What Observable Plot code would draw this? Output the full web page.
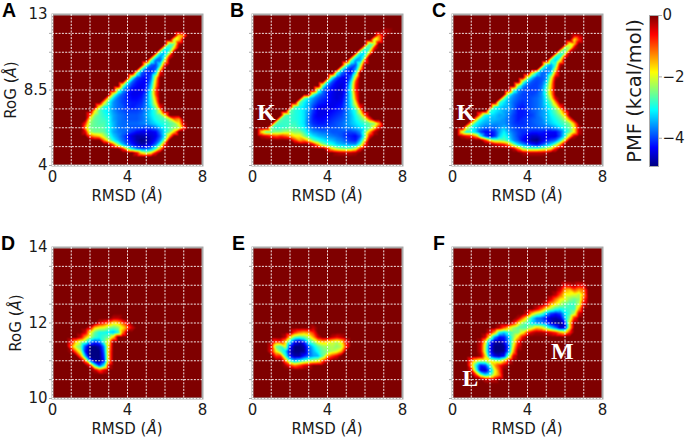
<!DOCTYPE html>
<html>
<head>
<meta charset="utf-8">
<script src="https://cdn.jsdelivr.net/npm/d3@7"></script>
<script src="https://cdn.jsdelivr.net/npm/@observablehq/plot@0.6"></script>
<style>
  body { margin: 0; background: #fff; }
  #chart { position: relative; width: 685px; height: 437px; overflow: hidden; }
  #chart svg { position: absolute; background: transparent; overflow: visible; }
</style>
</head>
<body>
<div id="chart"></div>
<script>
// PMF. Each row: [RoG, first RMSD, values every 0.25 A...]. Anything not listed is 0.
const panelA = [
  [11.75, 6.75, -1.6, -1.2],
  [11.5, 6.5, -2.2, -1.6],
  [11.25, 6.25, -2.6, -2.4, -0.3],
  [11, 6, -2.8, -3, -1.6],
  [10.75, 5.75, -2.8, -3.4, -2.4],
  [10.5, 5.5, -2.6, -3.6, -2.8, -0.6],
  [10.25, 5.25, -2.6, -3.8, -3.8, -1.8],
  [10, 5, -2.4, -3.8, -4, -3, -0.6],
  [9.75, 4.75, -2.6, -3.9, -4.1, -3.9, -1.8],
  [9.5, 4.5, -2.6, -3.9, -4.2, -4.1, -3.2, -0.5],
  [9.25, 4.25, -2.6, -3.9, -4.2, -4.3, -3.9, -2],
  [9, 4, -2.6, -3.8, -4.2, -4.3, -4.3, -3.6, -1.6],
  [8.75, 3.75, -2.4, -3.6, -4.1, -4.3, -4.4, -4.2, -3.3, -1.4],
  [8.5, 3.5, -2.4, -3.5, -4, -4.3, -4.4, -4.4, -4.1, -3, -1],
  [8.25, 3.25, -2.2, -3.4, -3.9, -4.2, -4.4, -4.4, -4.3, -3.9, -2.8, -1],
  [8, 3, -2, -3.3, -3.8, -4, -4.2, -4.3, -4.3, -4.2, -3.8, -2.9, -1.4],
  [7.75, 2.75, -1.8, -3, -3.6, -3.8, -4, -4.1, -4.2, -4.2, -4.1, -3.7, -3, -1.8],
  [7.5, 2.5, -1.8, -2.9, -3.2, -3.6, -3.8, -3.9, -4.1, -4.2, -4.1, -4, -3.7, -3.2, -2.4, -0.5],
  [7.25, 2.25, -1.8, -2.7, -3, -3.2, -3.6, -3.8, -3.9, -4, -4, -4, -3.9, -3.6, -3.2, -2.8, -1.8],
  [7, 2, -1, -2.4, -2.7, -2.9, -3.1, -3.5, -3.7, -3.8, -3.9, -3.9, -3.9, -3.8, -3.5, -3.2, -2.9, -2.6, -1.6],
  [6.75, 2, -2, -2.6, -2.7, -2.8, -3, -3.5, -3.7, -3.8, -3.9, -3.9, -3.9, -3.8, -3.6, -3.3, -3, -2.8, -2.7, -2.2, -1.2, -1.4],
  [6.5, 1.75, -0.8, -2.4, -2.6, -2.7, -2.7, -3, -3.4, -3.7, -3.8, -3.8, -3.8, -3.8, -3.7, -3.6, -3.4, -3.2, -3, -2.9, -2.7, -2.5, -1.8, -0.3],
  [6.25, 1.75, -1.4, -2.5, -2.6, -2.6, -2.7, -3, -3.4, -3.7, -3.8, -3.8, -3.9, -3.9, -3.9, -4, -3.9, -3.7, -3.3, -3, -2.7, -2.4, -2.2, -1],
  [6, 1.75, -0.5, -2.2, -2.5, -2.5, -2.6, -3, -3.5, -3.7, -3.8, -3.9, -4.1, -4.3, -4.4, -4.4, -4.4, -4.3, -3.7, -3.1, -2.5, -1.5],
  [5.75, 2, -1, -1.4, -1.6, -2.2, -2.8, -3.3, -3.6, -3.9, -4.2, -4.5, -4.7, -4.7, -4.6, -4.5, -4.4, -3.9, -3, -1.4],
  [5.5, 2.75, -1.2, -2.2, -3, -3.4, -3.8, -4.1, -4.4, -4.7, -4.9, -4.8, -4.5, -4.2, -3.6, -2.2],
  [5.25, 3.25, -1, -2.4, -3.4, -3.9, -4.2, -4.5, -4.7, -4.6, -4.3, -3.8, -2.6, -0.6],
  [5, 3.75, -0.8, -2.2, -3.2, -3.7, -3.9, -3.9, -3.6, -2.8, -1.4],
  [4.75, 4.5, -0.6, -1.8, -2.2, -1.8, -0.6]
];
const panelB = [
  [12, 7, -0.3, -0.2],
  [11.75, 6.75, -1.2, -0.3],
  [11.5, 6.5, -2.2, -1.4],
  [11.25, 6.25, -2.6, -2.2],
  [11, 6, -2.6, -2.8, -0.6],
  [10.75, 5.75, -2.8, -3.2, -1.8],
  [10.5, 5.5, -2.6, -3.4, -2.6],
  [10.25, 5.25, -2.6, -3.6, -3.4, -1],
  [10, 5, -2.4, -3.6, -3.9, -2.4],
  [9.75, 4.75, -2.6, -3.8, -4.2, -3.6, -1.6],
  [9.5, 4.5, -2.8, -3.8, -4.2, -4.3, -2.8],
  [9.25, 4.25, -2.8, -3.9, -4.3, -4.4, -3.8, -1.8],
  [9, 4, -2.8, -3.9, -4.3, -4.4, -4.3, -3.2, -1],
  [8.75, 3.75, -2.6, -3.8, -4.2, -4.4, -4.5, -4.2, -2.9, -0.8],
  [8.5, 3.5, -2.6, -3.7, -4.1, -4.3, -4.5, -4.5, -4.1, -2.9, -0.8],
  [8.25, 3.25, -2.6, -3.5, -3.9, -4.2, -4.4, -4.5, -4.5, -4, -3, -1],
  [8, 2.75, -2.6, -3.2, -3.6, -3.9, -4.1, -4.2, -4.4, -4.5, -4.4, -3.9, -3, -1.2],
  [7.75, 2.5, -2.6, -3.1, -3.4, -3.8, -4.1, -4.2, -4.3, -4.4, -4.4, -4.3, -3.8, -3.1, -1.8],
  [7.5, 2.25, -2.6, -3, -3.2, -3.5, -4, -4.3, -4.4, -4.4, -4.4, -4.3, -4.2, -3.8, -3.2, -2.4, -0.6],
  [7.25, 2, -2.6, -2.9, -3, -3.2, -3.6, -4.1, -4.4, -4.4, -4.4, -4.3, -4.2, -4.1, -3.8, -3.3, -2.9, -1.8],
  [7, 1.75, -2.6, -2.8, -2.9, -3, -3.2, -3.7, -4.2, -4.4, -4.4, -4.3, -4.2, -4.1, -4, -3.7, -3.4, -3, -2.4, -1],
  [6.75, 1.5, -2.6, -2.8, -2.8, -2.9, -3, -3.2, -3.8, -4.2, -4.3, -4.3, -4.2, -4.1, -4, -3.9, -3.7, -3.4, -3.1, -2.7, -2.2, -1],
  [6.5, 1.25, -2.6, -2.8, -2.8, -2.8, -2.8, -3, -3.2, -3.8, -4.1, -4.2, -4.2, -4.1, -4, -3.9, -3.8, -3.6, -3.4, -3.2, -3, -2.8, -2.6, -2.4, -1.4],
  [6.25, 1, -2.6, -2.9, -2.9, -2.8, -2.7, -2.7, -2.9, -3.1, -3.6, -3.9, -4, -4, -4, -3.9, -3.9, -3.8, -3.7, -3.6, -3.4, -3.2, -3, -2.6, -1.8, -0.5],
  [6, 0.5, -1.8, -2.6, -2.6, -2.4, -2.4, -2.2, -2.2, -2.4, -2.4, -2.8, -3.3, -3.6, -3.7, -3.8, -3.8, -3.9, -3.9, -3.9, -4, -4, -3.9, -3.6, -2.6, -1.4, -0.3],
  [5.75, 0.5, -0.3, -0.5, -0.8, -1, -0.8, -1, -1.4, -1.8, -1.8, -2.4, -2.9, -3.2, -3.4, -3.5, -3.6, -3.7, -3.8, -3.9, -4.1, -4.2, -4.3, -3.9, -2.6, -0.6],
  [5.5, 2.25, -0.8, -1.4, -1.2, -1.8, -2.6, -2.9, -3.1, -3.3, -3.4, -3.6, -3.7, -3.9, -4.1, -4.2, -3.4, -1.8],
  [5.25, 3.25, -0.5, -1.4, -2.4, -2.8, -3, -3.3, -3.4, -3.5, -3.6, -3.6, -2.6, -0.7],
  [5, 4, -0.7, -1.7, -2.2, -2.4, -2.5, -2.5, -2.1, -0.7],
  [4.75, 4.5, -0.2, -0.3, -0.3, -0.3, -0.2]
];
const panelC = [
  [11.75, 6.5, -0.4, -0.3],
  [11.5, 6.5, -1.8, -0.8],
  [11.25, 6.25, -1.9, -1.5],
  [11, 6, -2.4, -2.2, -0.3],
  [10.75, 5.75, -2.6, -2.6, -0.3],
  [10.5, 5.5, -2.8, -3, -0.8],
  [10.25, 5.25, -2.8, -3.3, -1.8],
  [10, 5, -3, -3.5, -2.8, -0.3],
  [9.75, 4.75, -3, -3.6, -3.6, -2],
  [9.5, 4.25, -2, -3.2, -3.8, -3.8, -3.2, -1.1],
  [9.25, 4, -2, -3.3, -3.9, -3.9, -3.7, -2.2, -0.3],
  [9, 3.75, -2.4, -3.4, -3.9, -4, -3.9, -3.3, -1.8],
  [8.75, 3.5, -2.4, -3.5, -3.9, -4, -4, -3.8, -3, -1.6],
  [8.5, 3.25, -2.6, -3.6, -3.9, -4, -4, -4, -3.7, -2.8, -1.5],
  [8.25, 3, -2.6, -3.5, -3.8, -4, -4, -4, -3.9, -3.6, -2.8, -1.6],
  [8, 2.75, -2.6, -3.4, -3.7, -3.9, -4, -4, -3.9, -3.8, -3.6, -3, -2, -0.4],
  [7.75, 2.5, -2.8, -3.2, -3.5, -3.8, -4, -4.1, -4, -3.9, -3.8, -3.6, -3.1, -2.6, -1.4],
  [7.5, 2.25, -2.8, -3.2, -3.4, -3.5, -3.8, -4.1, -4.2, -4, -3.9, -3.8, -3.6, -3.3, -2.9, -2.2, -0.8],
  [7.25, 2, -2.8, -3.1, -3.3, -3.5, -3.6, -3.9, -4.2, -4.2, -4.1, -3.9, -3.8, -3.6, -3.4, -3, -2.6, -2, -0.8],
  [7, 1.5, -1.4, -3, -3.2, -3.3, -3.5, -3.5, -3.7, -4, -4.2, -4.2, -4.1, -4, -3.8, -3.6, -3.4, -3.1, -2.8, -2.4, -1.6],
  [6.75, 1.25, -1.6, -3, -3.3, -3.4, -3.4, -3.5, -3.6, -3.8, -4, -4.2, -4.1, -4, -3.9, -3.8, -3.7, -3.4, -3.2, -3, -2.7, -2.2, -1.2],
  [6.5, 1, -1.8, -3, -3.3, -3.5, -3.5, -3.6, -3.6, -3.6, -3.8, -4, -4.1, -4.1, -4, -3.9, -3.8, -3.7, -3.5, -3.3, -3.1, -2.9, -2.7, -2.4, -1.4],
  [6.25, 0.75, -2, -3, -3.3, -3.6, -3.8, -3.8, -3.8, -3.6, -3.4, -3.7, -3.9, -4, -4, -4, -3.9, -3.9, -3.8, -3.8, -3.7, -3.5, -3.2, -2.9, -2.6, -1.8, -0.3],
  [6, 0.5, -2, -3, -3, -3.3, -4, -4.3, -4.3, -4.1, -3.5, -3.1, -3.5, -3.8, -4, -4.1, -4.1, -4.2, -4.2, -4.2, -4.3, -4.3, -4.3, -3.9, -3.2, -2.6, -1.8, -0.3],
  [5.75, 0.5, -0.3, -0.6, -0.8, -1.4, -3, -4, -4.4, -4.1, -3.3, -2.9, -3.3, -3.7, -4, -4.2, -4.4, -4.6, -4.6, -4.4, -4.4, -4.4, -4.4, -3.9, -3, -1.6, -0.3],
  [5.5, 1.75, -0.8, -1.8, -2.4, -2.4, -2.6, -3, -3.6, -3.9, -4.3, -4.5, -4.8, -4.9, -4.5, -4.2, -4, -3.8, -3, -1.6],
  [5.25, 2.25, -0.3, -0.5, -0.7, -1.2, -2.4, -3.2, -3.6, -3.9, -4.2, -4.4, -4, -3.6, -3.2, -2.4, -1.2],
  [5, 3.25, -0.3, -1.2, -2.2, -2.5, -2.6, -2.6, -2.4, -2.2, -1.8, -0.7],
  [4.75, 3.75, -0.2, -0.3, -0.3, -0.3, -0.3, -0.2]
];
const panelD = [
  [12.125, 3.25, -0.3, -0.3],
  [12, 2.5, -0.5, -0.8, -1.2, -1.8, -1.6, -1, -0.5],
  [11.875, 2, -0.4, -1.6, -1.9, -2, -2.4, -2.6, -2.4, -1.8, -1.1, -0.4],
  [11.75, 1.75, -0.4, -1.8, -2.6, -3, -3, -3.2, -3.4, -3, -1.2],
  [11.625, 1.5, -0.4, -1.4, -2.2, -2.8, -3, -2.8, -2.6, -1.6],
  [11.5, 1, -0.5, -1.6, -2.2, -2.6, -3.6, -4, -3.8, -2.7, -1.8],
  [11.375, 1, -1.2, -2.2, -2.6, -4, -4.9, -4.9, -4.7, -3.6, -1.6],
  [11.25, 1, -0.2, -1.2, -2.2, -4.2, -4.9, -4.9, -4.9, -3.8, -1.4],
  [11.125, 1.5, -1.2, -3.4, -4.9, -4.9, -4.9, -4, -1.4],
  [11, 1.75, -1.2, -3.6, -4.8, -4.9, -4.2, -1.4],
  [10.875, 2, -0.6, -2.8, -4, -3, -0.4],
  [10.75, 2.25, -0.3, -1, -0.5]
];
const panelE = [
  [11.875, 3.25, -0.3],
  [11.75, 2.25, -0.8, -1.2, -1.4, -1.3, -0.8],
  [11.625, 1.75, -0.3, -1.6, -2.6, -2.8, -2.6, -2.2, -1.4, -0.4, 0, 0, -0.3, -0.5, -0.3],
  [11.5, 1.25, -1, -0.8, -1.6, -3.2, -4.3, -4.6, -4.1, -3, -2.5, -1.8, -1.6, -1.7, -2, -2.2, -1.8, -0.5],
  [11.375, 1, -0.5, -2.5, -2.8, -2, -4.2, -4.9, -4.9, -4.7, -3.8, -3.2, -2.7, -2.4, -2.3, -2.2, -2.4, -2.2, -0.8],
  [11.25, 1, -0.6, -1.8, -2.6, -3.2, -4.6, -4.9, -4.9, -4.8, -3.9, -3.4, -3, -2.6, -2.4, -2.2, -2, -1.4],
  [11.125, 1.25, -0.8, -0.8, -2.8, -4.2, -4.7, -4.7, -4.2, -3.8, -3.5, -3.4, -2.6, -1.4, -0.9, -0.5],
  [11, 1.75, -1.2, -2.8, -3.4, -3.1, -2.7, -2.4, -2.2, -2, -1, -0.3],
  [10.875, 1.75, -0.2, -0.8, -1.2, -0.9, -0.5, -0.3]
];
const panelF = [
  [13, 6, -0.5, -0.4, -0.2, -0.5, -0.4],
  [12.875, 5.75, -0.4, -1.4, -1.6, -1, -1.4, -1.2],
  [12.75, 5.5, -0.3, -1, -1.9, -1.9, -2, -2.2, -1.4],
  [12.625, 5.25, -0.5, -1.2, -1.8, -2, -2.4, -2.6, -2.4, -1],
  [12.5, 5, -0.4, -1.4, -1.8, -2.2, -2.6, -2.8, -2.8, -2.2, -0.4],
  [12.375, 4.5, -0.4, -1, -1.8, -2.3, -2.8, -3, -2.9, -2.8, -2.8, -1.4],
  [12.25, 4, -0.4, -1.6, -2.2, -2.6, -3.4, -4, -4.2, -4, -3.2, -2.8, -2.2, -0.4],
  [12.125, 3.5, -0.3, -1.2, -2.2, -3.2, -3.8, -3.9, -4.3, -4.6, -4.7, -4.5, -3.4, -2.4, -0.7],
  [12, 3.25, -0.6, -1.6, -2.4, -2.8, -3.3, -3.6, -3.6, -3.9, -4.5, -4.8, -4.9, -4.2, -1.8],
  [11.875, 2.5, -0.3, -1, -1.7, -2.3, -2.6, -2.7, -2.6, -2.2, -1.6, -1.8, -2.5, -3.2, -3.8, -4.6, -4.4, -1.8],
  [11.75, 2, -0.4, -1.4, -3, -3.3, -2.9, -2.6, -2.5, -1.9, -0.9, -0.4, -0.2, -0.2, -0.3, -0.5, -0.8, -1.4, -1.8, -0.8],
  [11.625, 1.75, -0.4, -2, -3.6, -4.3, -4.2, -3.4, -2.4, -1.6, -0.5],
  [11.5, 1.5, -0.3, -1.8, -4, -4.7, -4.8, -4.4, -3.6, -2.2, -0.8],
  [11.375, 1.5, -0.4, -2.2, -4.2, -4.9, -4.9, -4.8, -3.8, -1.8, -0.4],
  [11.25, 1.5, -0.4, -2.2, -4.2, -4.9, -4.9, -4.8, -3.6, -1.4],
  [11.125, 1.5, -0.2, -1.6, -3.8, -4.4, -4.6, -4.2, -2.4, -0.5],
  [11, 1, -1, -1.8, -2.2, -2.2, -1.8, -2.2, -2.4, -1.6, -0.4],
  [10.875, 1, -1.4, -3, -4.2, -4, -2.8, -1.4, -0.8, -0.3],
  [10.75, 1, -0.6, -2.6, -4.4, -4.6, -3.6, -2, -1],
  [10.625, 1.25, -0.8, -2.4, -3.2, -2.8, -1.8, -1.2],
  [10.5, 1.75, -0.3, -0.3, -0.3]
];

const letters = ["A", "B", "C", "D", "E", "F"];
const rmsdTicks = [0, 4, 8];
const rmsdGrid = [0, 1, 2, 3, 4, 5, 6, 7];
const rogTicksTop = [4, 8.5, 13];
const rogTicksBottom = [10, 12, 14];
const rogGridTop = [4, 5.125, 6.25, 7.375, 8.5, 9.625, 10.75, 11.875];
const rogGridBottom = [10, 10.5, 11, 11.5, 12, 12.5, 13, 13.5];
const notesB = [{x: 0.74, y: 7.17, t: "K"}];
const notesC = [{x: 0.71, y: 7.17, t: "K"}];
const notesF = [{x: 0.94, y: 10.53, t: "L"}, {x: 5.86, y: 11.25, t: "M"}];

const pmfTicks = [0, -2, -4];
const pmfMin = -4.92;
const jetColors = ["#00007f", "#0000ff", "#007fff", "#00ffff", "#7fff7f", "#ffff00", "#ff7f00", "#ff0000", "#7f0000"];

const colorScale = {
    type: "linear",
    domain: jetColors.map((c, i) => pmfMin * (1 - i / (jetColors.length - 1))),
    range: jetColors,
    clamp: true
};
const mainFont = "'DejaVu Sans', sans-serif";
const inkColor = "#1a1a1a";
const spineColor = "#aaaaaa";

// lattice of the read-off values, the rest of the frame stays at 0
function toPoints(rows, rogMin, rogMax, rogStep) {
    const known = new Map();
    rows.forEach(([rog, start, ...values]) => {
        values.forEach((v, i) => known.set(`${start + i * 0.25}|${rog}`, v));
    });
    const points = [];
    for (let i = 0; i <= 32; i++) {
        const n = Math.round((rogMax - rogMin) / rogStep);
        for (let j = 0; j <= n; j++) {
            const x = i * 0.25, y = rogMin + j * rogStep;
            points.push({x, y, v: known.get(`${x}|${y}`) ?? 0});
        }
    }
    return points;
}

function addSvgLabel(svg, x, y, rotate, size, parts) {
    const text = d3.select(svg).append("text")
        .attr("transform", `translate(${x},${y}) rotate(${rotate})`)
        .attr("text-anchor", "middle")
        .attr("font-family", mainFont)
        .attr("font-size", size)
        .attr("fill", inkColor);
    parts.forEach(p => text.append("tspan").attr("font-style", p.italic ? "italic" : "normal").text(p.t));
}

function drawPanel(cfg) {
    const {rows, left, top, rogDomain, rogStep, rogTicks, rogGrid, showY, notes, letter, letterX, rogLabelX} = cfg;
    const plot = Plot.plot({
        width: 240,
        height: 205,
        marginLeft: 52,
        marginRight: 38,
        marginTop: 14,
        marginBottom: 40,
        style: {fontFamily: mainFont, background: "transparent"},
        x: {domain: [0, 8], label: null, axis: null},
        y: {domain: rogDomain, label: null, axis: null},
        color: colorScale,
        marks: [
            Plot.raster(toPoints(rows, rogDomain[0], rogDomain[1], rogStep), {
                x: "x", y: "y", fill: "v",
                x1: 0, x2: 8, y1: rogDomain[0], y2: rogDomain[1],
                interpolate: "barycentric"
            }),
            Plot.frame({stroke: spineColor, strokeWidth: 2}),
            Plot.gridX(rmsdGrid, {stroke: "#fff", strokeOpacity: 0.9, strokeDasharray: "2,1.3", strokeWidth: 1}),
            Plot.gridY(rogGrid, {stroke: "#fff", strokeOpacity: 0.9, strokeDasharray: "2,1.3", strokeWidth: 1}),
            Plot.tickY(rogGrid, {y: d => d, insetLeft: -3, insetRight: 150, stroke: spineColor}),
            Plot.axisX(rmsdTicks, {tickSize: 0, tickPadding: 6, fontSize: 15, fill: inkColor, label: null, tickFormat: d => String(d)}),
            showY ? Plot.axisY(rogTicks, {tickSize: 0, tickPadding: 5, fontSize: 15, fill: inkColor, label: null, tickFormat: d => String(d)}) : null,
            notes ? Plot.text(notes, {
                x: "x", y: "y", text: "t", fill: "#fff",
                fontFamily: "'Liberation Serif', serif", fontWeight: "bold", fontSize: 24
            }) : null
        ]
    });
    plot.style.left = `${left}px`;
    plot.style.top = `${top}px`;

    addSvgLabel(plot, 127, 201, 0, 15, [{t: "RMSD ("}, {t: "Å", italic: true}, {t: ")"}]);
    if (showY) {
        addSvgLabel(plot, rogLabelX, 90, -90, 15, [{t: "RoG ("}, {t: "Å", italic: true}, {t: ")"}]);
    }
    d3.select(plot).append("text")
        .attr("x", letterX)
        .attr("y", 17)
        .attr("text-anchor", "start")
        .attr("font-family", "'Liberation Sans', sans-serif")
        .attr("font-weight", "bold")
        .attr("font-size", 19.5)
        .attr("fill", "#000")
        .text(letter);
    document.getElementById("chart").appendChild(plot);
}

function drawColorbar() {
    const plot = Plot.plot({
        width: 85,
        height: 180,
        marginLeft: 49,
        marginRight: 27,
        marginTop: 15,
        marginBottom: 14,
        style: {fontFamily: mainFont, background: "transparent"},
        x: {domain: [0, 1], axis: null},
        y: {domain: [pmfMin, 0], label: null, axis: null},
        color: colorScale,
        marks: [
            Plot.raster({x1: 0, x2: 1, y1: pmfMin, y2: 0, fill: (x, y) => y}),
            Plot.frame({stroke: spineColor, strokeWidth: 1}),
            Plot.axisY(pmfTicks, {
                anchor: "right", tickSize: 3, tickPadding: 1, fontSize: 15, stroke: spineColor,
                fill: inkColor, label: null,
                tickFormat: d => d < 0 ? `\u2212${-d}` : String(d)
            })
        ]
    });
    plot.style.left = "600px";
    plot.style.top = "0px";
    addSvgLabel(plot, 41, 91, -90, 19.5, [{t: "PMF (kcal/mol)"}]);
    document.getElementById("chart").appendChild(plot);
}

const topRow = {top: 0, rogDomain: [4, 13], rogStep: 0.25, rogTicks: rogTicksTop, rogGrid: rogGridTop};
const bottomRow = {top: 233, rogDomain: [10, 14], rogStep: 0.125, rogTicks: rogTicksBottom, rogGrid: rogGridBottom};

drawPanel({...topRow, rows: panelA, left: 0, showY: true, letter: letters[0], letterX: 2, rogLabelX: 16});
drawPanel({...topRow, rows: panelB, left: 200, showY: false, letter: letters[1], letterX: 30, notes: notesB});
drawPanel({...topRow, rows: panelC, left: 400, showY: false, letter: letters[2], letterX: 32, notes: notesC});
drawPanel({...bottomRow, rows: panelD, left: 0, showY: true, letter: letters[3], letterX: 1, rogLabelX: 21});
drawPanel({...bottomRow, rows: panelE, left: 200, showY: false, letter: letters[4], letterX: 32});
drawPanel({...bottomRow, rows: panelF, left: 400, showY: false, letter: letters[5], letterX: 33, notes: notesF});
drawColorbar();
</script>
</body>
</html>
